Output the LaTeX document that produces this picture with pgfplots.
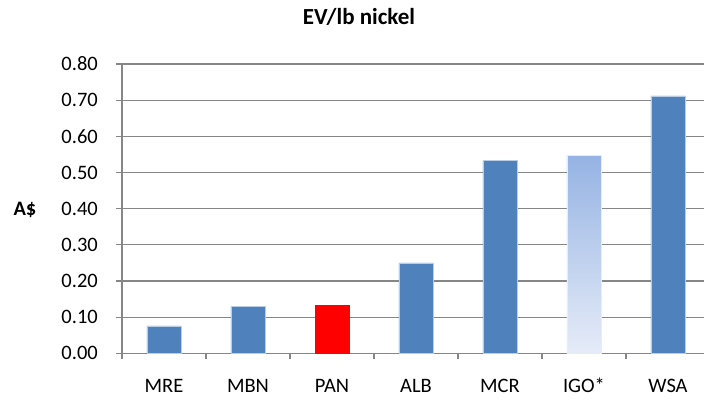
\documentclass[border=0pt]{standalone}
\usepackage{pgfplots}
\pgfplotsset{compat=1.18}
\usepackage{fontspec}
\setmainfont{Carlito}
\definecolor{barblue}{RGB}{79,129,189}
\definecolor{baredge}{RGB}{185,205,229}
\definecolor{gridgray}{RGB}{134,134,134}
\definecolor{igotop}{RGB}{149,179,227}
\definecolor{igobot}{RGB}{230,236,248}
\begin{document}
\begin{tikzpicture}[x=1pt,y=1pt]
\useasboundingbox (-122,-47.7) rectangle (582,353.3);
\begin{axis}[
  at={(0,0)}, anchor=south west,
  scale only axis, width=582pt, height=289.3pt,
  xmin=-0.5, xmax=6.429, ymin=0, ymax=0.8,
  clip=false,
  axis lines*=left,
  axis line style={draw=gridgray, line width=1.2pt},
  ymajorgrids, grid style={draw=gridgray, line width=1.2pt},
  ytick={0,0.1,...,0.8},
  yticklabel style={/pgf/number format/fixed,/pgf/number format/precision=2,/pgf/number format/fixed zerofill, font=\fontsize{20.5}{24}\selectfont, anchor=east, inner sep=0pt, xshift=-18pt},
  /pgf/number format/assume math mode=true,
  xtick={0,...,6},
  xticklabels={MRE,MBN,PAN,ALB,MCR,IGO*,WSA},
  xticklabel style={font=\fontsize{20.5}{24}\selectfont, anchor=base, inner sep=0pt, yshift=-33pt},
  minor xtick={-0.5,0.5,...,5.5},
  tick align=outside,
  major tick length=6pt, minor tick length=6pt,
  major x tick style={draw=none},
  tick style={draw=gridgray, line width=1.2pt},
  minor tick style={draw=gridgray, line width=1.2pt},
  ylabel={\bfseries A\$},
  every axis y label/.style={at={(axis description cs:-0.1667,0.494)}, anchor=center, font=\fontsize{20.5}{24}\selectfont},
  title={\bfseries EV/lb nickel},
  every axis title/.style={at={(axis description cs:0.4072,1.138)}, anchor=base, font=\fontsize{23}{27}\selectfont},
  ybar, bar width=34pt, bar shift=0pt,
]
\addplot[fill=barblue, draw=baredge, line width=0.6pt] coordinates {(0,0.076) (1,0.130) (3,0.250) (4,0.533) (6,0.712)};
\addplot[fill=red, draw=red, line width=0.6pt] coordinates {(2,0.134)};
\addplot[top color=igotop, bottom color=igobot, draw=igobot, line width=0.6pt] coordinates {(5,0.548)};
\end{axis}
\end{tikzpicture}
\end{document}
